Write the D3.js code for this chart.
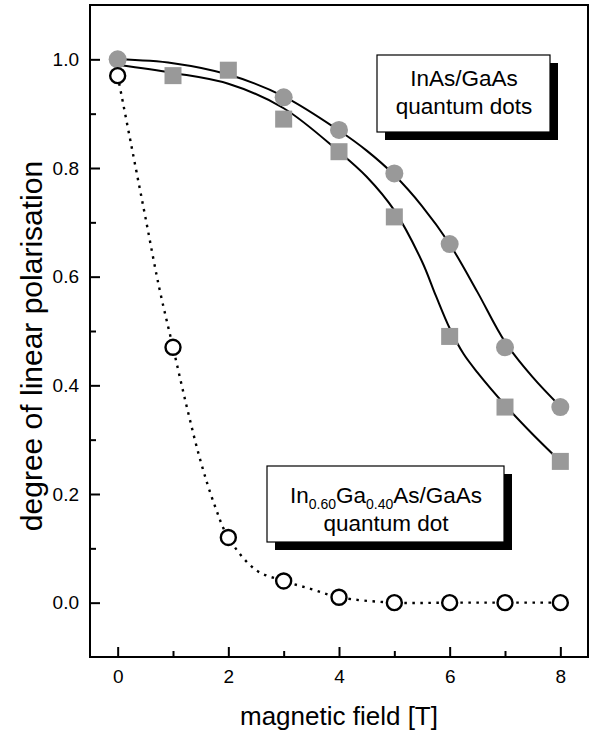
<!DOCTYPE html>
<html><head><meta charset="utf-8">
<script src="https://cdn.jsdelivr.net/npm/d3@7"></script>
<style>
body{margin:0;background:#fff;}
text{font-family:"Liberation Sans",Arial,sans-serif;fill:#000;}
</style></head>
<body>
<svg id="chart" width="593" height="735"></svg>
<script>
// ---- data ----
const fieldCircles = [0, 3, 4, 5, 6, 7, 8];
const polCircles   = [1.00, 0.93, 0.87, 0.79, 0.66, 0.47, 0.36];
const fieldSquares = [1, 2, 3, 4, 5, 6, 7, 8];
const polSquares   = [0.97, 0.98, 0.89, 0.83, 0.71, 0.49, 0.36, 0.26];
const fieldOpen    = [0, 1, 2, 3, 4, 5, 6, 7, 8];
const polOpen      = [0.97, 0.47, 0.12, 0.04, 0.01, 0.00, 0.00, 0.00, 0.00];
// fitted curves
const fitUpperX = [0, 1, 2, 3, 4, 4.5, 5, 5.5, 6, 6.5, 7, 7.5, 8];
const fitUpperY = [1.00, 0.993, 0.972, 0.932, 0.869, 0.832, 0.787, 0.73, 0.66, 0.572, 0.48, 0.415, 0.361];
const fitLowerX = [0, 1, 2, 3, 4, 4.5, 5, 5.5, 5.75, 6, 6.25, 6.5, 7, 7.5, 8];
const fitLowerY = [0.99, 0.975, 0.955, 0.91, 0.83, 0.784, 0.722, 0.628, 0.565, 0.505, 0.458, 0.424, 0.364, 0.31, 0.26];
const fitDotX = [0, 0.25, 0.5, 0.75, 1, 1.25, 1.5, 1.75, 2, 2.5, 3, 3.5, 4, 5, 6, 7, 8];
const fitDotY = [0.97, 0.84, 0.71, 0.58, 0.47, 0.36, 0.26, 0.18, 0.12, 0.06, 0.04, 0.025, 0.01, 0, 0, 0, 0];
const xMajorTicks = [0, 2, 4, 6, 8];
const xMinorTicks = [1, 3, 5, 7];
const yMajorTicks = [0.0, 0.2, 0.4, 0.6, 0.8, 1.0];
const yMinorTicks = [0.1, 0.3, 0.5, 0.7, 0.9];
const xTitle = "magnetic field [T]";
const yTitle = "degree of linear polarisation";

// ---- layout ----
const L = 90, R = 588, T = 5, B = 657;
const svg = d3.select("#chart");
const x = d3.scaleLinear().domain([-0.5, 8.5]).range([L, R]);
const y = d3.scaleLinear().domain([-0.1, 1.1]).range([B, T]);

// axes
const gx = svg.append("g").attr("transform", `translate(0,${B})`)
  .call(d3.axisBottom(x).tickValues(xMajorTicks).tickFormat(d3.format("d")).tickSizeInner(-10).tickSizeOuter(0).tickPadding(13));
const gxm = svg.append("g").attr("transform", `translate(0,${B})`)
  .call(d3.axisBottom(x).tickValues(xMinorTicks).tickFormat("").tickSizeInner(-6).tickSizeOuter(0));
const gy = svg.append("g").attr("transform", `translate(${L},0)`)
  .call(d3.axisLeft(y).tickValues(yMajorTicks).tickFormat(d3.format(".1f")).tickSizeInner(-10).tickSizeOuter(0).tickPadding(11));
const gym = svg.append("g").attr("transform", `translate(${L},0)`)
  .call(d3.axisLeft(y).tickValues(yMinorTicks).tickFormat("").tickSizeInner(-6).tickSizeOuter(0));
[gx, gxm, gy, gym].forEach(g => {
  g.select(".domain").remove();
  g.selectAll(".tick line").attr("stroke", "#000").attr("stroke-width", 2);
  g.selectAll(".tick text").style("font-size", "19px").attr("fill", "#000");
});

// frame
svg.append("rect").attr("x", L).attr("y", T).attr("width", R - L).attr("height", B - T)
  .attr("fill", "none").attr("stroke", "#000").attr("stroke-width", 2);

// fit curves
const line = d3.line().x(d => x(d[0])).y(d => y(d[1])).curve(d3.curveCatmullRom.alpha(0.5));
svg.append("path").datum(fitUpperX.map((v, i) => [v, fitUpperY[i]]))
  .attr("d", line).attr("fill", "none").attr("stroke", "#000").attr("stroke-width", 2);
svg.append("path").datum(fitLowerX.map((v, i) => [v, fitLowerY[i]]))
  .attr("d", line).attr("fill", "none").attr("stroke", "#000").attr("stroke-width", 2);
svg.append("path").datum(fitDotX.map((v, i) => [v, fitDotY[i]]))
  .attr("d", line).attr("fill", "none").attr("stroke", "#000").attr("stroke-width", 2.4)
  .attr("stroke-dasharray", "2.5,5.5");

// markers
const sq = 17;
svg.append("g").selectAll("rect").data(fieldSquares.map((v, i) => [v, polSquares[i]])).join("rect")
  .attr("x", d => x(d[0]) - sq / 2).attr("y", d => y(d[1]) - sq / 2)
  .attr("width", sq).attr("height", sq).attr("fill", "#999");
svg.append("g").selectAll("circle").data(fieldCircles.map((v, i) => [v, polCircles[i]])).join("circle")
  .attr("cx", d => x(d[0])).attr("cy", d => y(d[1])).attr("r", 9).attr("fill", "#999");
svg.append("g").selectAll("circle").data(fieldOpen.map((v, i) => [v, polOpen[i]])).join("circle")
  .attr("cx", d => x(d[0])).attr("cy", d => y(d[1])).attr("r", 7.5)
  .attr("fill", "#fff").attr("stroke", "#000").attr("stroke-width", 2.4);

// legend boxes
function box(x0, y0, w, h) {
  svg.append("rect").attr("x", x0 + 8).attr("y", y0 + 8).attr("width", w).attr("height", h).attr("fill", "#000");
  svg.append("rect").attr("x", x0).attr("y", y0).attr("width", w).attr("height", h)
    .attr("fill", "#fff").attr("stroke", "#000").attr("stroke-width", 1.2);
}
box(377, 55, 173, 77);
const t1 = svg.append("text").attr("text-anchor", "middle").style("font-size", "22.5px");
t1.append("tspan").attr("x", 464).attr("y", 86).text("InAs/GaAs");
t1.append("tspan").attr("x", 464).attr("y", 114).text("quantum dots");

box(267, 466, 237, 76);
const t2 = svg.append("text").attr("text-anchor", "middle").attr("x", 386).attr("y", 503).style("font-size", "22.5px");
t2.append("tspan").text("In");
t2.append("tspan").attr("dy", 6).style("font-size", "14px").text("0.60");
t2.append("tspan").attr("dy", -6).text("Ga");
t2.append("tspan").attr("dy", 6).style("font-size", "14px").text("0.40");
t2.append("tspan").attr("dy", -6).text("As/GaAs");
svg.append("text").attr("text-anchor", "middle").attr("x", 386).attr("y", 531).style("font-size", "22.5px").text("quantum dot");

// axis titles
svg.append("text").attr("x", (L + R) / 2).attr("y", 725).attr("text-anchor", "middle")
  .style("font-size", "26px").text(xTitle);
svg.append("text").attr("transform", `translate(42,346) rotate(-90)`).attr("text-anchor", "middle")
  .style("font-size", "30px").text(yTitle);
</script>
</body></html>
